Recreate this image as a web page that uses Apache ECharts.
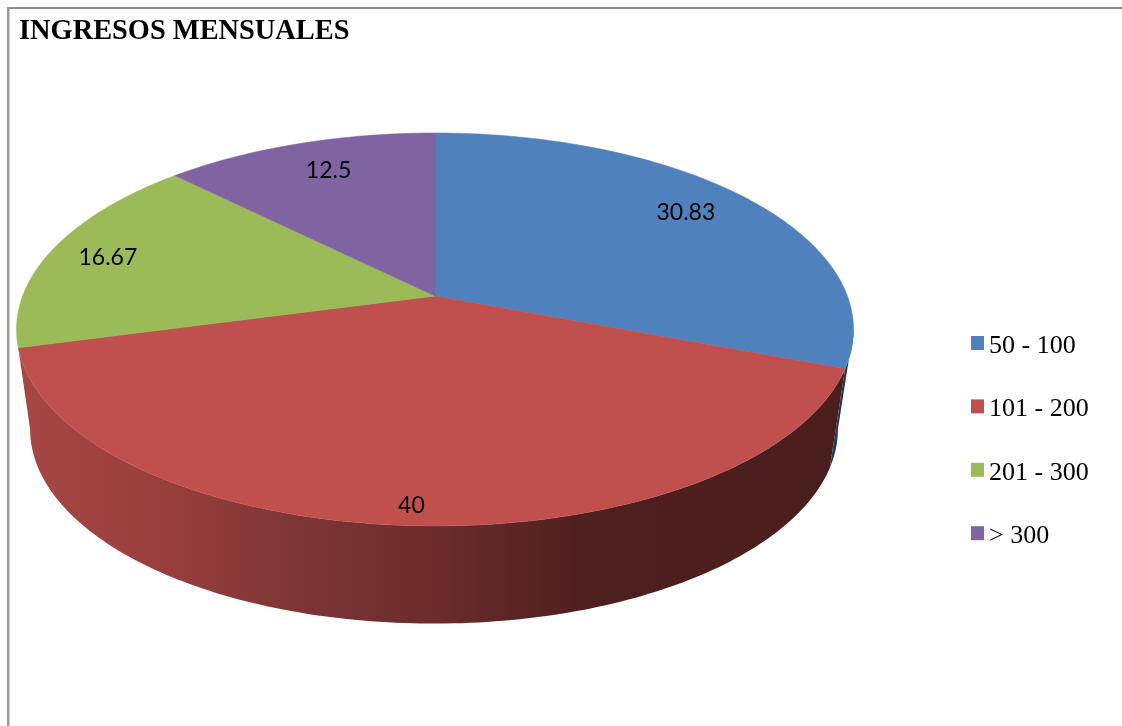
<!DOCTYPE html>
<html>
<head>
<meta charset="utf-8">
<style>html,body{margin:0;padding:0;background:#fff}#chart{width:1122px;height:726px}</style>
<script src="https://cdn.jsdelivr.net/npm/echarts@6/dist/echarts.min.js"></script>
</head>
<body>
<div id="chart"></div>
<script>
// Monthly income brackets, shown as a tilted pie with a raised rim.
const titleText = 'INGRESOS MENSUALES';
const categories = ['50 - 100', '101 - 200', '201 - 300', '> 300'];
const shares = [30.83, 40, 16.67, 12.5];
const topColors = ['#4f81bd', '#c0504d', '#9bbb59', '#8064a2'];

// Tilted-disc geometry: a perspective map of the unit circle.
const TILT = 0.1705;
const topFace = { cx: 435, cy: 296, a: 412.4, b: 190.8 };
const baseFace = { cx: 434, cy: 396, a: 398, b: 188.8 };
const labelRadius = [0.795, 0.925, 0.852, 0.755];
const labelLift = [-4, 0, 2, -6];
const hasWall = [true, true, false, false];
const wallStops = [
  [[0, '#1f3a5c'], [1, '#1f3a5c']],
  [[0, '#a84744'], [0.16, '#9a3f3d'], [0.34, '#7c3634'], [0.5, '#6b2c2c'], [0.69, '#4d1f1f'], [1, '#4b1e1e']]
];

function project(face, deg, r) {
  const t = deg * Math.PI / 180;
  const u = Math.sin(t) * r, v = -Math.cos(t) * r;
  const w = 1 - TILT * v;
  return [face.cx + face.a * u / w, face.cy + face.b * v / w];
}
function arc(face, from, to) {
  const pts = [], n = Math.max(2, Math.ceil(Math.abs(to - from)));
  for (let i = 0; i <= n; i++) pts.push(project(face, from + (to - from) * i / n, 1));
  return pts;
}

const total = shares.reduce((s, v) => s + v, 0);
// The front of the disc runs between the two points where the rim turns away.
const frontStart = Math.acos(-TILT) * 180 / Math.PI;
const frontEnd = 360 - frontStart;

let running = 0;
const series = categories.map((name, idx) => {
  const startShare = running;
  running += shares[idx];
  return {
    type: 'custom',
    name,
    coordinateSystem: 'none',
    silent: true,
    animation: false,
    itemStyle: { color: topColors[idx] },
    data: [[startShare, shares[idx]]],
    renderItem(params, api) {
      const start = api.value(0) / total * 360;
      const end = start + api.value(1) / total * 360;
      const children = [];
      if (hasWall[idx]) {
        const a0 = Math.max(start, frontStart);
        // The last walled slice closes its base along the far silhouette.
        const baseEnd = hasWall[idx + 1] ? end : frontEnd;
        const pts = arc(topFace, a0, end).concat(arc(baseFace, a0, baseEnd).reverse());
        const stops = wallStops[idx].map(([offset, color]) => ({ offset, color }));
        const fill = new echarts.graphic.LinearGradient(18, 0, 853, 0, stops, true);
        children.push({ type: 'polygon', shape: { points: pts }, style: { fill } });
      }
      const sector = [[topFace.cx, topFace.cy]].concat(arc(topFace, start, end));
      children.push({
        type: 'polygon',
        shape: { points: sector },
        style: { fill: topColors[idx], stroke: topColors[idx], lineWidth: 0.5 }
      });
      const mid = (start + end) / 2;
      const p = project(topFace, mid, labelRadius[idx]);
      children.push({
        type: 'text',
        z2: 10,
        style: {
          x: p[0], y: p[1] + labelLift[idx],
          text: String(api.value(1)),
          fill: '#000',
          font: '23px Lato',
          align: 'center',
          verticalAlign: 'middle'
        }
      });
      return { type: 'group', children };
    }
  };
});

const chart = echarts.init(document.getElementById('chart'), null, { renderer: 'canvas' });
chart.setOption({
  animation: false,
  backgroundColor: '#ffffff',
  title: {
    text: titleText,
    left: 19,
    top: 18,
    padding: 0,
    textStyle: { fontFamily: 'Liberation Serif', fontWeight: 'bold', fontSize: 28.4, color: '#000' }
  },
  legend: {
    orient: 'vertical',
    left: 971,
    top: 327,
    padding: 0,
    itemWidth: 13,
    itemHeight: 14,
    itemGap: 31.4,
    icon: 'rect',
    selectedMode: false,
    data: categories,
    formatter: '{t|{name}}',
    textStyle: {
      rich: { t: { fontFamily: 'Liberation Serif', fontSize: 26, color: '#000', lineHeight: 30, padding: [6, 0, 0, 0] } }
    }
  },
  graphic: [
    { type: 'rect', silent: true, shape: { x: 7, y: 7, width: 1115, height: 2 }, style: { fill: '#8f8f8f' } },
    { type: 'rect', silent: true, shape: { x: 7, y: 7, width: 2.5, height: 719 }, style: { fill: '#9a9a9a' } }
  ],
  series
});
</script>
</body>
</html>
